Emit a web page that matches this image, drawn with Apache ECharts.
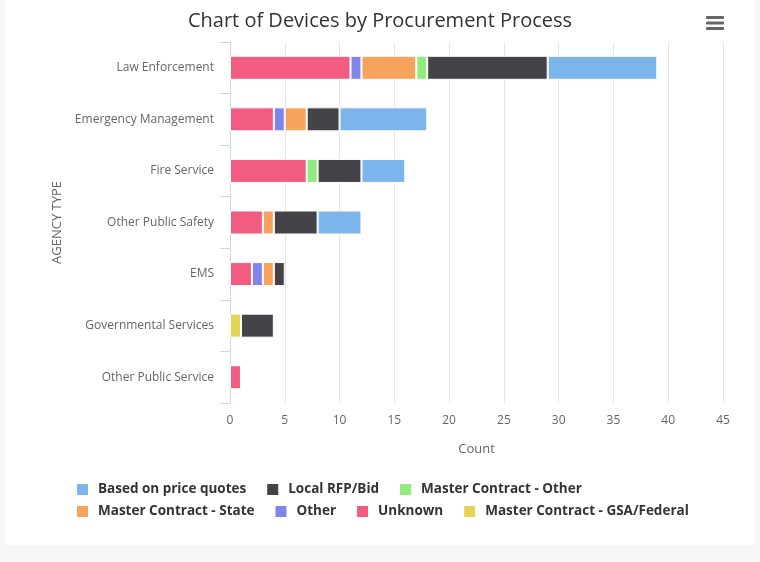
<!DOCTYPE html>
<html>
<head>
<meta charset="utf-8">
<title>Chart of Devices by Procurement Process</title>
<script src="https://cdn.jsdelivr.net/npm/echarts@6/dist/echarts.min.js"></script>
<style>
  html, body { margin: 0; padding: 0; background: #f7f7f7; }
  #chart {
    position: absolute;
    left: 5px;
    top: 0;
    width: 750px;
    height: 545px;
    background: #fff;
    border-radius: 0 0 6px 6px;
  }
</style>
</head>
<body>
<div id="chart"></div>
<script>
// categories top to bottom
const agencies = ['Law Enforcement', 'Emergency Management', 'Fire Service', 'Other Public Safety',
  'EMS', 'Governmental Services', 'Other Public Service']

// counts per procurement process, same order as agencies
const priceQuotes = [10, 8, 4, 4, 0, 0, 0]
const localRfp = [11, 3, 4, 4, 1, 3, 0]
const mcOther = [1, 0, 1, 0, 0, 0, 0]
const mcState = [5, 2, 0, 1, 1, 0, 0]
const other = [1, 1, 0, 0, 1, 0, 0]
const unknown = [11, 4, 7, 3, 2, 0, 1]
const mcGsa = [0, 0, 0, 0, 0, 1, 0]

const xTicks = [0, 5, 10, 15, 20, 25, 30, 35, 40, 45]

// legend order (Highcharts style); stacking goes the other way round
const seriesDefs = [
  { name: 'Based on price quotes', data: priceQuotes, color: '#7cb5ec' },
  { name: 'Local RFP/Bid', data: localRfp, color: '#434348' },
  { name: 'Master Contract - Other', data: mcOther, color: '#90ed7d' },
  { name: 'Master Contract - State', data: mcState, color: '#f7a35c' },
  { name: 'Other', data: other, color: '#8085e9' },
  { name: 'Unknown', data: unknown, color: '#f15c80' },
  { name: 'Master Contract - GSA/Federal', data: mcGsa, color: '#e4d354' }
]

const font = '"Open Sans", "DejaVu Sans", sans-serif'

const chart = echarts.init(document.getElementById('chart'))

const legendBase = {
  orient: 'horizontal',
  left: 65,
  itemWidth: 13,
  itemHeight: 13,
  itemGap: 19,
  icon: 'rect',
  textStyle: { color: '#333', fontSize: 13.5, fontWeight: 'bold', fontFamily: font, padding: [0, 0, 0, 4] }
}

chart.setOption({
  animation: false,
  textStyle: { fontFamily: font },
  title: {
    text: 'Chart of Devices by Procurement Process',
    left: 'center',
    top: 6,
    textStyle: { color: '#333', fontSize: 20, fontWeight: 'normal', fontFamily: font }
  },
  legend: [
    Object.assign({}, legendBase, { top: 477, data: seriesDefs.slice(0, 3).map(s => s.name) }),
    Object.assign({}, legendBase, { top: 499, data: seriesDefs.slice(3).map(s => s.name) })
  ],
  grid: { left: 225, right: 32, top: 42, bottom: 142 },
  xAxis: {
    type: 'value',
    min: 0,
    max: 45,
    interval: 5,
    name: 'Count',
    nameLocation: 'middle',
    nameGap: 40,
    nameTextStyle: { color: '#666', fontSize: 13, fontFamily: font },
    axisLine: { show: false },
    axisTick: { show: false },
    axisLabel: {
      color: '#666', fontSize: 12, margin: 12, fontFamily: font,
      formatter: v => xTicks.includes(v) ? String(v) : ''
    },
    splitLine: { lineStyle: { color: '#e6e6e6', width: 1 } }
  },
  yAxis: {
    type: 'category',
    inverse: true,
    data: agencies,
    name: 'AGENCY TYPE',
    nameLocation: 'middle',
    nameRotate: 90,
    nameGap: 166,
    nameTextStyle: { color: '#666', fontSize: 13, fontFamily: font },
    axisLine: { show: true, lineStyle: { color: '#ccd6eb' } },
    axisTick: { show: true, length: 10, alignWithLabel: false, lineStyle: { color: '#ccd6eb' } },
    axisLabel: { color: '#666', fontSize: 12, margin: 16, fontFamily: font },
    splitLine: { show: false }
  },
  graphic: [
    {
      type: 'group',
      right: 31,
      top: 16,
      children: [0, 5.5, 11].map(y => ({
        type: 'rect',
        shape: { x: 0, y: y, width: 18, height: 3, r: 1 },
        style: { fill: '#666' }
      }))
    }
  ],
  series: seriesDefs.slice().reverse().map(s => ({
    name: s.name,
    type: 'bar',
    stack: 'total',
    barWidth: 24,
    data: s.data.map(v => v === 0 ? null : v),
    itemStyle: { color: s.color, borderColor: '#fff', borderWidth: 1 }
  }))
})
</script>
</body>
</html>
